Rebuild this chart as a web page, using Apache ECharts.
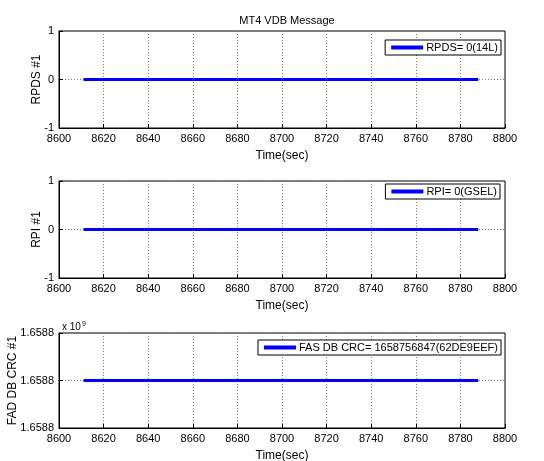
<!DOCTYPE html>
<html>
	<head>
		<meta charset="UTF-8">
		<title>MT4 VDB Message</title>
		<script src="https://cdn.jsdelivr.net/npm/echarts@6/dist/echarts.min.js"></script>
		<style>
			body { margin: 0; background: #fff; }
		</style>
	</head>
	<body>
		<div id="main" style="width: 544px;height: 461px;"></div>
		<script type="text/javascript">
			// data
			var timeSec = [8611, 8788];
			var rpds = [0, 0];
			var rpi = [0, 0];
			var fasCrc = [1658756847, 1658756847];
			var xTicks = [8600, 8620, 8640, 8660, 8680, 8700, 8720, 8740, 8760, 8780, 8800];
			var legendNames = ['RPDS= 0(14L)', 'RPI= 0(GSEL)', 'FAS DB CRC= 1658756847(62DE9EEF)'];
			var yNames = ['RPDS #1', 'RPI #1', 'FAD DB CRC #1'];

			var font = 'Liberation Sans, Arial, sans-serif';
			var tops = [31, 181, 333];
			var heights = [97, 97, 95];

			function makeX(i) {
				return {
					type: 'value', gridIndex: i,
					min: xTicks[0], max: xTicks[xTicks.length - 1], interval: 20,
					name: 'Time(sec)', nameLocation: 'middle', nameGap: 22, nameMoveOverlap: false,
					nameTextStyle: { color: '#000', fontSize: 12, fontFamily: font },
					axisLine: { show: true, onZero: false, lineStyle: { color: '#000' } },
					axisTick: { inside: true, length: 4, lineStyle: { color: '#000' } },
					axisLabel: { color: '#000', fontSize: 11, fontFamily: font, margin: 5,
						formatter: function (v) { return String(v); } },
					splitLine: { show: true, lineStyle: { color: '#777', type: [1, 2], width: 1 } }
				};
			}

			function makeY(i, min, max, fmt, gap) {
				return {
					type: 'value', gridIndex: i,
					min: min, max: max, interval: 1,
					name: yNames[i], nameLocation: 'middle', nameGap: gap, nameMoveOverlap: false,
					nameTextStyle: { color: '#000', fontSize: 12, fontFamily: font },
					axisLine: { show: true, onZero: false, lineStyle: { color: '#000' } },
					axisTick: { inside: true, length: 4, lineStyle: { color: '#000' } },
					axisLabel: { color: '#000', fontSize: 11, fontFamily: font, margin: 5, formatter: fmt },
					splitLine: { show: true, lineStyle: { color: '#777', type: [1, 2], width: 1 } }
				};
			}

			function pairs(ys) {
				return timeSec.map(function (t, k) { return [t, ys[k]]; });
			}

			function makeLegend(i, right, top) {
				return {
					data: [legendNames[i]],
					right: right, top: top,
					orient: 'vertical',
					backgroundColor: '#fff',
					borderColor: '#000', borderWidth: 1, borderRadius: 0,
					padding: [2, 3, 2, 6],
					itemWidth: 32, itemHeight: 4, itemGap: 0,
					icon: 'rect',
					selectedMode: false,
					textStyle: { color: '#000', fontSize: 11, fontFamily: font, padding: [0, 0, 0, -2] }
				};
			}

			var option = {
				backgroundColor: '#fff',
				animation: false,
				title: [
					{ text: 'MT4 VDB Message', left: 282, top: 10, textAlign: 'center',
					  textStyle: { color: '#000', fontSize: 11, fontWeight: 'normal', fontFamily: font } },
					{ text: '{b|x 10}{s|9}', left: 57, top: 316,
					  textStyle: { rich: {
						b: { color: '#000', fontSize: 10, fontWeight: 'normal', fontFamily: font },
						s: { color: '#000', fontSize: 7, fontWeight: 'normal', fontFamily: font, verticalAlign: 'top', padding: [0, 0, 6, 1] }
					  } } }
				],
				legend: [
					makeLegend(0, 43, 40),
					makeLegend(1, 44, 184),
					makeLegend(2, 43, 340)
				],
				grid: tops.map(function (t, i) {
					return { left: 59, width: 446, top: t, height: heights[i], show: true,
						outerBoundsMode: 'none', containLabel: false,
						borderColor: '#000', borderWidth: 1, backgroundColor: '#fff' };
				}),
				xAxis: [makeX(0), makeX(1), makeX(2)],
				yAxis: [
					makeY(0, -1, 1, null, 16),
					makeY(1, -1, 1, null, 16),
					makeY(2, 1658756846, 1658756848, function (v) { return (v / 1e9).toFixed(4); }, 40)
				],
				series: [
					{ name: legendNames[0], type: 'line', xAxisIndex: 0, yAxisIndex: 0, data: pairs(rpds),
					  showSymbol: false, color: '#0000ff', lineStyle: { width: 3 } },
					{ name: legendNames[1], type: 'line', xAxisIndex: 1, yAxisIndex: 1, data: pairs(rpi),
					  showSymbol: false, color: '#0000ff', lineStyle: { width: 3 } },
					{ name: legendNames[2], type: 'line', xAxisIndex: 2, yAxisIndex: 2, data: pairs(fasCrc),
					  showSymbol: false, color: '#0000ff', lineStyle: { width: 3 } }
				]
			};

			var myChart = echarts.init(document.getElementById('main'));
			myChart.setOption(option);
		</script>
	</body>
</html>
